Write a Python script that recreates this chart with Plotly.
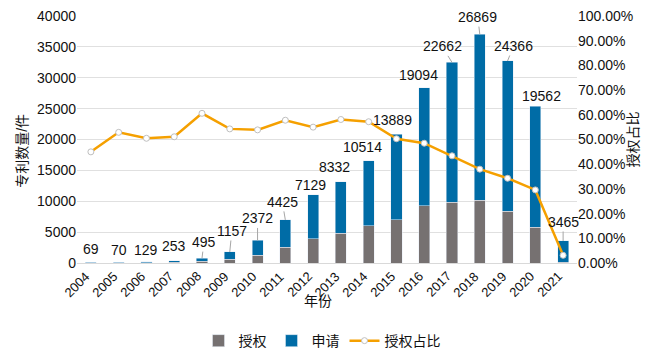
import plotly.graph_objects as go

years = [str(y) for y in range(2004, 2022)]
apply_cnt = [69, 70, 129, 253, 495, 1157, 2372, 4425, 7129, 8332, 10514, 13889, 19094, 22662, 26869, 24366, 19562, 3465]
grant_cnt = [31, 37, 65, 129, 300, 628, 1279, 2558, 3930, 4840, 6010, 6980, 9260, 9830, 10200, 8350, 5790, 107]
grant_ratio = [45.0, 52.9, 50.5, 51.1, 60.6, 54.3, 53.9, 57.8, 55.0, 58.1, 57.2, 50.3, 48.5, 43.4, 38.0, 34.3, 29.6, 3.1]

# label offsets (px) relative to the stacked bar top, and whether a leader line is drawn
label_dx = [0, 0, 0, 0, 2, 2, 0, -3, -3, -6, -6, -4, -6, -10, -2, 6, 6, 0]
label_dy = [-13, -12, -12, -15, -16, -21, -22, -18, -10, -15, -14, -14, -13, -16, -17, -15, -10, -19]
leader = [False, False, False, False, True, True, True, True, False, False, False, False, False, True, True, True, False, True]

FONT = "Liberation Sans, Arial, Noto Sans CJK SC, sans-serif"
GREY = "#767171"
BLUE = "#006CA6"
ORANGE = "#F5A000"

fig = go.Figure()
fig.add_trace(go.Bar(x=years, y=grant_cnt, name="授权", marker=dict(color=GREY), width=0.4))
fig.add_trace(go.Bar(x=years, y=apply_cnt, name="申请", marker=dict(color=BLUE), width=0.4))
fig.add_trace(go.Scatter(x=years, y=[r / 100 for r in grant_ratio], name="授权占比", yaxis="y2",
                         mode="lines+markers",
                         line=dict(color=ORANGE, width=2.5),
                         marker=dict(symbol="circle", size=6, color="white",
                                     line=dict(color="#BFBFBF", width=1))))

annotations = []
for i, yr in enumerate(years):
    top = grant_cnt[i] + apply_cnt[i]
    if leader[i]:
        annotations.append(dict(x=i, y=top, xref="x", yref="y", text=str(apply_cnt[i]),
                                showarrow=True, arrowhead=0, arrowwidth=1, arrowcolor="#A6A6A6",
                                ax=label_dx[i], ay=label_dy[i], standoff=0,
                                font=dict(size=14, color="#111", family=FONT)))
    else:
        annotations.append(dict(x=i, y=top, xref="x", yref="y", text=str(apply_cnt[i]),
                                showarrow=False, xanchor="center", yanchor="middle",
                                xshift=label_dx[i], yshift=-label_dy[i],
                                font=dict(size=14, color="#111", family=FONT)))
    # rotated category tick label
    annotations.append(dict(x=i, y=0, xref="x", yref="y", text=yr, showarrow=False,
                            textangle=-45, xanchor="center", yanchor="middle",
                            xshift=-14, yshift=-21,
                            font=dict(size=13, color="#111", family=FONT)))

annotations += [
    dict(x=0.482, y=-0.193, xref="paper", yref="paper", text="年份", showarrow=False,
         font=dict(size=14, color="#111", family=FONT)),
    dict(x=-0.13, y=0.454, xref="paper", yref="paper", text="专利数量/件", showarrow=False,
         textangle=-90, font=dict(size=14, color="#111", family=FONT)),
    dict(x=1.13, y=0.50, xref="paper", yref="paper", text="授权占比", showarrow=False,
         textangle=-90, font=dict(size=14, color="#111", family=FONT)),
]

# the page body adds an 8px offset; the figure is sized to fill the rest of the window
fig.update_layout(
    width=651, height=348,
    margin=dict(l=69, r=82, t=8, b=93, autoexpand=False),
    barmode="stack",
    plot_bgcolor="white", paper_bgcolor="white",
    font=dict(family=FONT, size=14, color="#111"),
    yaxis=dict(range=[0, 40000], dtick=5000, tickformat="d", showgrid=True, gridcolor="#E0E0E0",
               zeroline=False, ticks="", tickfont=dict(size=14), automargin=False,
               ticklabeloverflow="allow"),
    yaxis2=dict(range=[0, 1], dtick=0.1, tickformat=".2%", overlaying="y", side="right",
                showgrid=False, zeroline=False, ticks="", tickfont=dict(size=14), automargin=False,
                ticklabeloverflow="allow"),
    legend=dict(orientation="h", x=0.49, xanchor="center", yref="container", y=0.043,
                yanchor="middle", font=dict(size=14), traceorder="normal", itemwidth=30),
    annotations=annotations,
    showlegend=True,
)
fig.update_xaxes(type="category", range=[-0.5, len(years) - 0.5], showticklabels=False,
                 showgrid=False, showline=True, linecolor="#D9D9D9", ticks="", automargin=False)

fig.write_html("out.html")
